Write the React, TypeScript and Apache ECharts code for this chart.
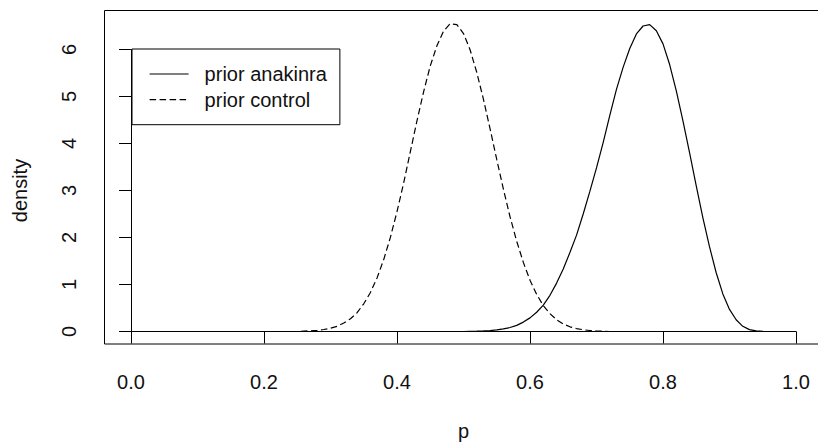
import React, { useEffect, useRef } from "react";
import * as echarts from "echarts";

const xTickValues = [0, 0.2, 0.4, 0.6, 0.8, 1.0];
const yTickValues = [0, 1, 2, 3, 4, 5, 6];
const seriesNames = ["prior anakinra", "prior control"];

const anakinraP = [
  0.0, 0.5, 0.51, 0.52, 0.53, 0.54, 0.55, 0.56, 0.57, 0.58, 0.59, 0.6, 0.61, 0.62, 0.63, 0.64,
  0.65, 0.66, 0.67, 0.68, 0.69, 0.7, 0.71, 0.72, 0.73, 0.74, 0.75, 0.76, 0.77, 0.78, 0.79, 0.8,
  0.81, 0.82, 0.83, 0.84, 0.85, 0.86, 0.87, 0.88, 0.89, 0.9, 0.91, 0.92, 0.93, 0.94, 0.95, 0.96, 1.0,
];
const anakinraDensity = [
  0, 0, 0.003, 0.006, 0.012, 0.02, 0.035, 0.055, 0.085, 0.13, 0.2, 0.29, 0.41, 0.56, 0.77, 1.03,
  1.33, 1.68, 2.05, 2.5, 2.98, 3.48, 4.02, 4.6, 5.15, 5.62, 6.02, 6.33, 6.5, 6.53, 6.4, 6.12,
  5.68, 5.12, 4.48, 3.8, 3.1, 2.42, 1.8, 1.25, 0.8, 0.47, 0.25, 0.11, 0.04, 0.012, 0.003, 0, 0,
];

const controlP = [
  0.0, 0.25, 0.26, 0.27, 0.28, 0.29, 0.3, 0.31, 0.32, 0.33, 0.34, 0.35, 0.36, 0.37, 0.38, 0.39,
  0.4, 0.41, 0.42, 0.43, 0.44, 0.45, 0.46, 0.47, 0.48, 0.49, 0.5, 0.51, 0.52, 0.53, 0.54, 0.55,
  0.56, 0.57, 0.58, 0.59, 0.6, 0.61, 0.62, 0.63, 0.64, 0.65, 0.66, 0.67, 0.68, 0.69, 0.7, 0.71,
  0.72, 1.0,
];
const controlDensity = [
  0, 0, 0.008, 0.014, 0.024, 0.042, 0.07, 0.11, 0.18, 0.27, 0.4, 0.59, 0.83, 1.14, 1.53, 2.0,
  2.55, 3.16, 3.82, 4.48, 5.1, 5.65, 6.08, 6.39, 6.55, 6.53, 6.34, 5.99, 5.51, 4.94, 4.31, 3.66,
  3.03, 2.44, 1.92, 1.47, 1.09, 0.79, 0.55, 0.38, 0.25, 0.16, 0.1, 0.063, 0.037, 0.021, 0.011, 0.005,
  0, 0,
];

const FONT = "'Liberation Sans', Arial, sans-serif";
const INK = "#111";

export default function App() {
  const ref = useRef<HTMLDivElement>(null);

  useEffect(() => {
    if (!ref.current) return;
    const chart = echarts.init(ref.current, null, { renderer: "svg" });
    const pairs = (xs: number[], ys: number[]) => xs.map((x, i) => [x, ys[i]]);

    chart.setOption({
      animation: false,
      backgroundColor: "#ffffff",
      textStyle: { fontFamily: FONT },
      grid: { left: 131, top: 49.5, width: 665, height: 282 },
      xAxis: {
        type: "value",
        min: 0,
        max: 1,
        interval: 0.2,
        offset: 12.5,
        name: "p",
        nameLocation: "middle",
        nameGap: 77,
        nameTextStyle: { fontSize: 20, color: INK, fontFamily: FONT },
        axisLine: { show: true, lineStyle: { color: "#000", width: 1 } },
        axisTick: { show: true, length: 12, lineStyle: { color: "#000", width: 1 } },
        axisLabel: {
          fontSize: 20,
          color: INK,
          margin: 28,
          fontFamily: FONT,
          formatter: (v: number) => (xTickValues.includes(+v.toFixed(1)) ? v.toFixed(1) : ""),
        },
        splitLine: { show: false },
      },
      yAxis: {
        type: "value",
        min: yTickValues[0],
        max: yTickValues[yTickValues.length - 1],
        interval: 1,
        offset: 26.5,
        name: "density",
        nameLocation: "middle",
        nameGap: 75,
        nameTextStyle: { fontSize: 20, color: INK, fontFamily: FONT },
        axisLine: { show: true, lineStyle: { color: "#000", width: 1 } },
        axisTick: { show: true, length: 12, lineStyle: { color: "#000", width: 1 } },
        axisLabel: { fontSize: 20, color: INK, margin: 26, rotate: 90, fontFamily: FONT },
        splitLine: { show: false },
      },
      legend: {
        show: true,
        orient: "vertical",
        left: 132,
        top: 49,
        backgroundColor: "#fff",
        borderColor: "#000",
        borderWidth: 1,
        borderRadius: 0,
        padding: [14, 13, 14, 17],
        itemWidth: 39,
        itemHeight: 22,
        itemGap: 3.7,
        data: seriesNames,
        itemStyle: { opacity: 0 },
        lineStyle: { width: 1.2 },
        textStyle: { fontSize: 20, lineHeight: 22, color: INK, fontFamily: FONT, padding: [0, 0, 0, 11] },
      },
      graphic: [
        {
          type: "rect",
          silent: true,
          z: 100,
          shape: { x: 104.5, y: 10.5, width: 720, height: 333.5 },
          style: { fill: "none", stroke: "#000", lineWidth: 1 },
        },
      ],
      series: [
        {
          name: seriesNames[0],
          type: "line",
          data: pairs(anakinraP, anakinraDensity),
          showSymbol: false,
          symbol: "none",
          clip: false,
          smooth: false,
          lineStyle: { color: "#000", width: 1.2, type: "solid" },
          itemStyle: { color: "#000" },
        },
        {
          name: seriesNames[1],
          type: "line",
          data: pairs(controlP, controlDensity),
          showSymbol: false,
          symbol: "none",
          clip: false,
          smooth: false,
          lineStyle: { color: "#000", width: 1.2, type: [6.5, 3.5] },
          itemStyle: { color: "#000" },
        },
      ],
    });

    return () => chart.dispose();
  }, []);

  return (
    <div
      ref={ref}
      style={{ position: "absolute", left: 0, top: 0, width: 818, height: 446 }}
    />
  );
}
